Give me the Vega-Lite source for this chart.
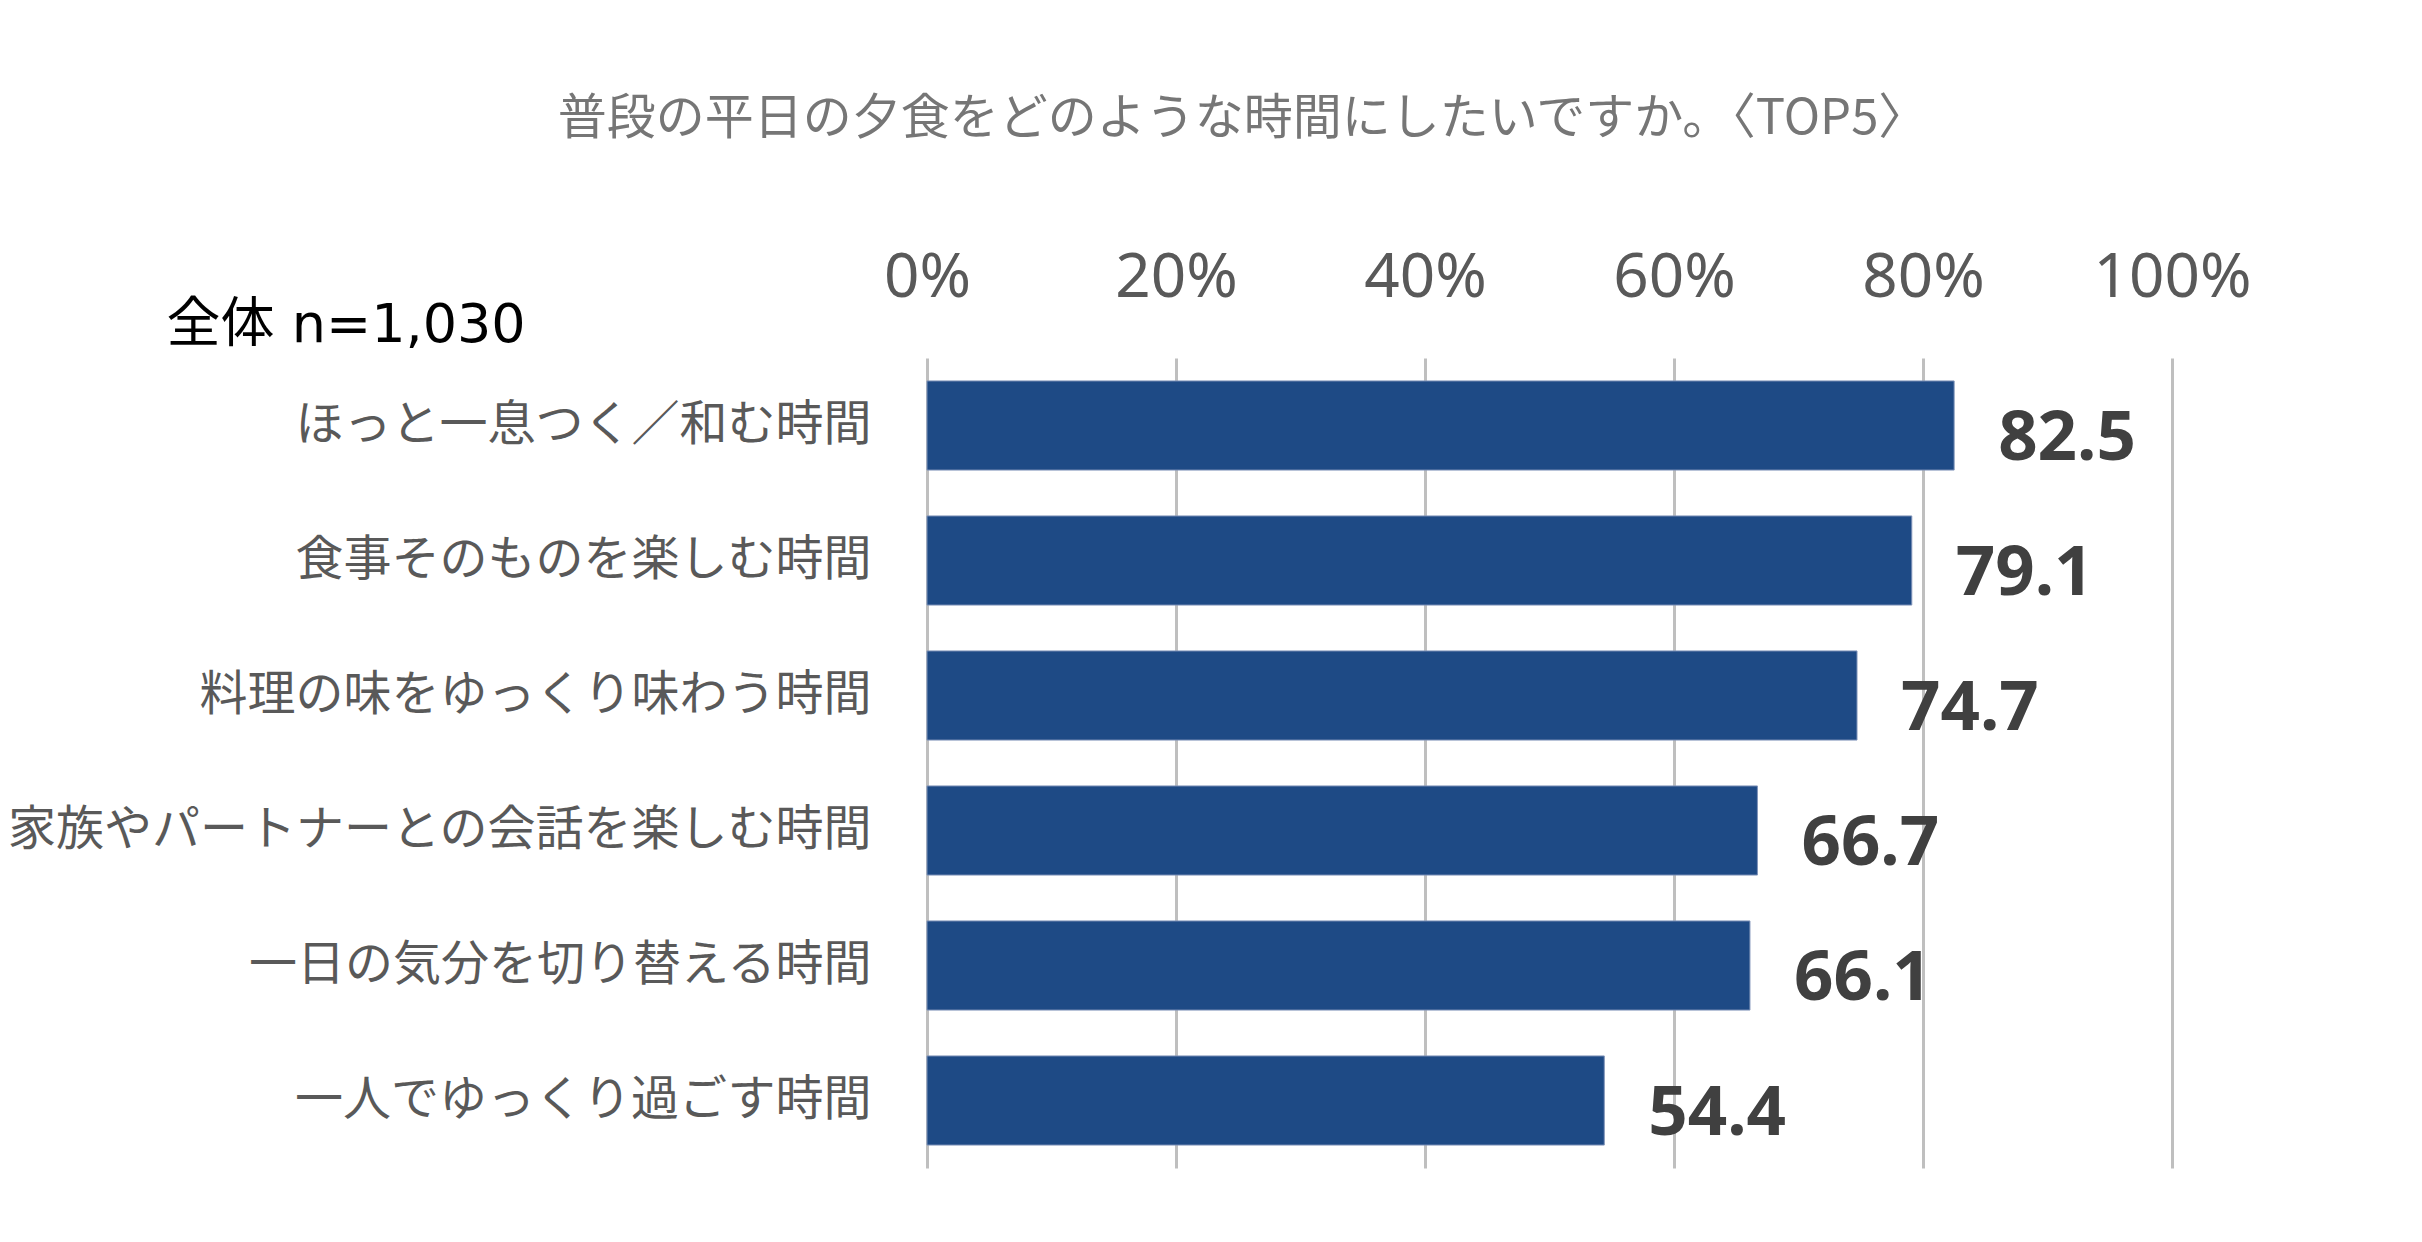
{
  "$schema": "https://vega.github.io/schema/vega-lite/v6.json",
  "description": "普段の平日の夕食をどのような時間にしたいですか (TOP5)",
  "autosize": "none",
  "padding": {"left": 927, "top": 358, "right": 250, "bottom": 74},
  "width": 1245,
  "height": 810,
  "background": "white",
  "config": {
    "font": "Noto Sans, Noto Sans CJK JP",
    "view": {"stroke": null}
  },
  "title": {
    "text": "普段の平日の夕食をどのような時間にしたいですか。〈TOP5〉",
    "font": "Noto Sans CJK JP",
    "fontSize": 49,
    "fontWeight": "normal",
    "color": "#767676",
    "anchor": "middle",
    "frame": "group",
    "dx": -307,
    "offset": 102
  },
  "data": {
    "values": [
      {"item": "ほっと一息つく／和む時間", "pct": 82.5},
      {"item": "食事そのものを楽しむ時間", "pct": 79.1},
      {"item": "料理の味をゆっくり味わう時間", "pct": 74.7},
      {"item": "家族やパートナーとの会話を楽しむ時間", "pct": 66.7},
      {"item": "一日の気分を切り替える時間", "pct": 66.1},
      {"item": "一人でゆっくり過ごす時間", "pct": 54.4}
    ]
  },
  "encoding": {
    "y": {
      "field": "item",
      "type": "nominal",
      "sort": null,
      "scale": {"paddingInner": 0.34, "paddingOuter": 0.17},
      "axis": {
        "title": "全体 n=1,030",
        "titleAngle": 0,
        "titleAlign": "left",
        "titleBaseline": "middle",
        "titleX": -761,
        "titleY": -33,
        "titleFont": "DejaVu Sans, Noto Sans CJK JP",
        "titleFontSize": 54,
        "titleFontWeight": "normal",
        "titleColor": "#000000",
        "domain": false,
        "ticks": false,
        "tickSize": 0,
        "labelPadding": 56,
        "labelFont": "Noto Sans CJK JP",
        "labelFontSize": 48,
        "labelColor": "#595959",
        "labelLimit": 1200
      }
    },
    "x": {
      "field": "pct",
      "type": "quantitative",
      "scale": {"domain": [0, 100]},
      "axis": {
        "orient": "top",
        "title": null,
        "values": [0, 20, 40, 60, 80, 100],
        "labelExpr": "datum.value + '%'",
        "labelFlush": false,
        "labelOverlap": false,
        "domain": false,
        "ticks": false,
        "tickSize": 0,
        "labelPadding": 49,
        "labelFontSize": 62,
        "labelColor": "#595959",
        "labelFont": "Noto Sans",
        "grid": true,
        "gridColor": "#bfbfbf",
        "gridWidth": 3
      }
    }
  },
  "layer": [
    {
      "mark": {"type": "bar", "color": "#1e4a85", "stroke": "#7f93b8", "strokeWidth": 1}
    },
    {
      "mark": {
        "type": "text",
        "align": "left",
        "baseline": "alphabetic",
        "dx": 44,
        "dy": 34,
        "font": "Noto Sans",
        "fontSize": 69,
        "fontWeight": "bold",
        "color": "#404040"
      },
      "encoding": {
        "text": {"field": "pct", "type": "quantitative", "format": ".1f"}
      }
    }
  ]
}
